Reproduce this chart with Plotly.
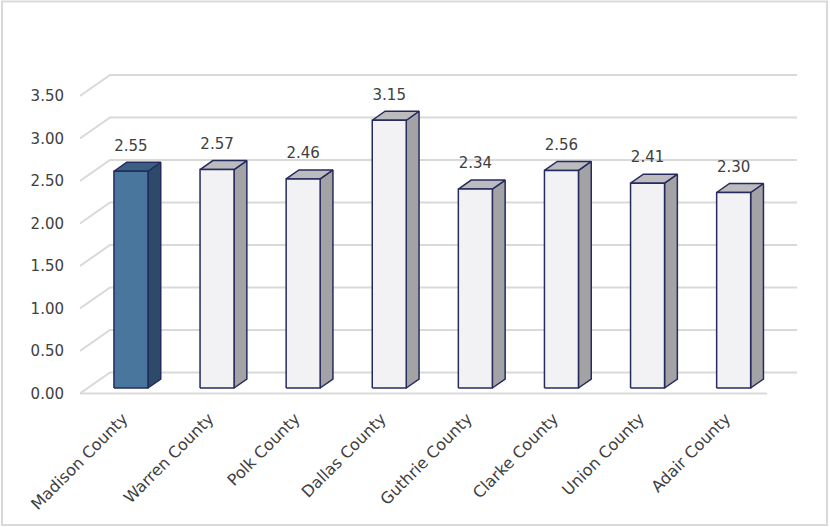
import plotly.graph_objects as go

# ---------------- data ----------------
categories = ["Madison County", "Warren County", "Polk County", "Dallas County",
              "Guthrie County", "Clarke County", "Union County", "Adair County"]
values = [2.55, 2.57, 2.46, 3.15, 2.34, 2.56, 2.41, 2.30]
value_labels = [f"{v:.2f}" for v in values]
y_ticks = [0.0, 0.5, 1.0, 1.5, 2.0, 2.5, 3.0, 3.5]
y_tick_labels = [f"{t:.2f}" for t in y_ticks]
highlight = "Madison County"

# ---------------- geometry (pixel -> data scale) ----------------
W, H = 830, 527
L, R, T, B = 80, 30, 50, 127
plot_w, plot_h = W - L - R, H - T - B
PX, PY = 86.1, 85.0                 # pixels per x unit / per y unit
x_min = -0.5
x_rng = [x_min, x_min + plot_w / PX]
y_min = -6.5 / PY
y_rng = [y_min, y_min + plot_h / PY]

DX, DY = 30 / PX, 21 / PY           # wall depth
FX, FY = 7.9 / PX, 5.5 / PY         # bar front-plane offset
BX, BY = 12.8 / PX, 9.0 / PY        # bar depth
BW = 34 / PX                        # bar width
x_floor_end = len(categories) - 0.52

FONT = "DejaVu Sans"
TXT = "#404040"
GRID = "#d9d9d9"
OUTLINE = "#262b5e"

fig = go.Figure()

# gridlines: left side wall diagonal + back wall horizontal
gx, gy = [], []
for t in y_ticks:
    gx += [x_min, x_min + DX, x_floor_end + DX, None]
    gy += [t, t + DY, t + DY, None]
gx += [x_min, x_floor_end, None]
gy += [0, 0, None]
fig.add_trace(go.Scatter(x=gx, y=gy, mode="lines",
                         line=dict(color=GRID, width=2),
                         hoverinfo="skip", showlegend=False))

# 3D bars
for i, (cat, v) in enumerate(zip(categories, values)):
    if cat == highlight:
        c_front, c_side, c_top = "#48769c", "#2d4a68", "#3a5f82"
    else:
        c_front, c_side, c_top = "#f2f2f4", "#a3a3a6", "#bcbcbf"
    cx = i + FX
    xl, xr = cx - BW / 2, cx + BW / 2
    yb, yt = FY, v + FY
    faces = [
        ([xr, xr + BX, xr + BX, xr, xr], [yb, yb + BY, yt + BY, yt, yb], c_side),
        ([xl, xr, xr + BX, xl + BX, xl], [yt, yt, yt + BY, yt + BY, yt], c_top),
        ([xl, xr, xr, xl, xl], [yb, yb, yt, yt, yb], c_front),
    ]
    for fx, fy, col in faces:
        fig.add_trace(go.Scatter(x=fx, y=fy, mode="lines", fill="toself",
                                 fillcolor=col,
                                 line=dict(color=OUTLINE, width=1.5),
                                 hoverinfo="skip", showlegend=False))

# data labels
fig.add_trace(go.Scatter(
    x=[i + FX for i in range(len(values))],
    y=[v + FY + BY + 8 / PY for v in values],
    mode="text", text=value_labels, textposition="top center",
    textfont=dict(family=FONT, size=15, color=TXT),
    hoverinfo="skip", showlegend=False))

fig.update_layout(
    width=W, height=H,
    margin=dict(l=L, r=R, t=T, b=B, pad=0),
    paper_bgcolor="white", plot_bgcolor="white",
    font=dict(family=FONT, color=TXT),
    xaxis=dict(range=x_rng, tickmode="array", tickvals=list(range(len(categories))),
               ticktext=categories, tickangle=-45,
               tickfont=dict(family=FONT, size=16, color=TXT),
               showgrid=False, zeroline=False, showline=False,
               ticks="outside", ticklen=2, tickcolor="rgba(0,0,0,0)",
               fixedrange=True),
    yaxis=dict(range=y_rng, tickmode="array", tickvals=y_ticks, ticktext=y_tick_labels,
               tickfont=dict(family=FONT, size=15, color=TXT),
               showgrid=False, zeroline=False, showline=False,
               ticks="outside", ticklen=12, tickcolor="rgba(0,0,0,0)",
               fixedrange=True),
    shapes=[dict(type="rect", xref="paper", yref="paper",
                 x0=(2 - L) / plot_w, x1=(827 - L) / plot_w,
                 y0=(T + plot_h - 525) / plot_h,
                 y1=(T + plot_h - 1.5) / plot_h,
                 line=dict(color=GRID, width=2), layer="below")],
)

fig.write_html("out.html", config={"displayModeBar": False},
               post_script="document.body.style.margin='0';document.body.style.padding='0';")
